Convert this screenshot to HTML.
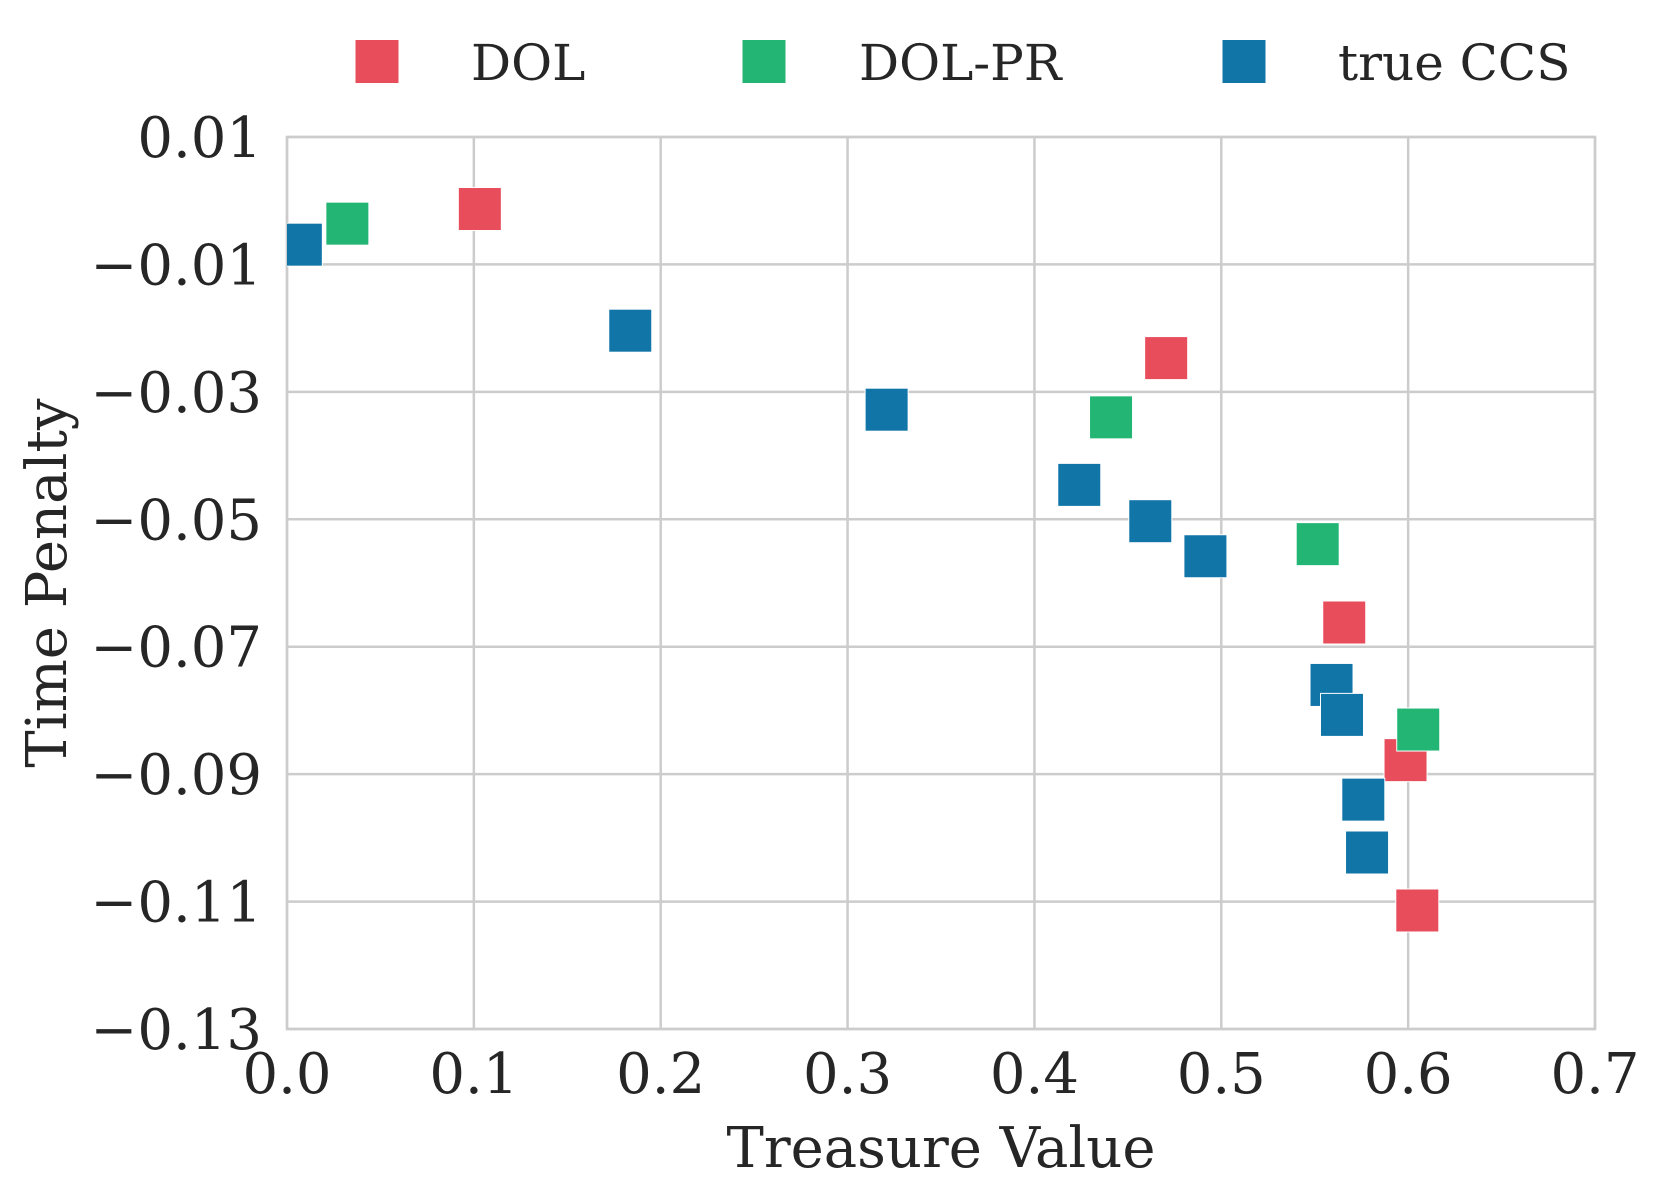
<!DOCTYPE html>
<html><head><meta charset="utf-8"><style>
html,body{margin:0;padding:0;background:#fff;}
svg text{font-family:"DejaVu Serif","Liberation Serif",serif;fill:#262626;}
</style></head><body>
<svg id="chart" width="1660" height="1195" viewBox="0 0 1660 1195" xmlns="http://www.w3.org/2000/svg">
<defs><clipPath id="plotclip"><rect x="287" y="137" width="1308" height="892"/></clipPath></defs>
<g id="grid"></g>
<g id="axes"></g>
<g id="marks" clip-path="url(#plotclip)"></g>
<g id="legend"></g>
<text x="941" y="1167" font-size="56" text-anchor="middle">Treasure Value</text>
<text transform="translate(66,583) rotate(-90)" font-size="56" text-anchor="middle">Time Penalty</text>
</svg>
<script>
const xTicks=[0,0.1,0.2,0.3,0.4,0.5,0.6,0.7];
const xTickLabels=["0.0","0.1","0.2","0.3","0.4","0.5","0.6","0.7"];
const yTicks=[0.01,-0.01,-0.03,-0.05,-0.07,-0.09,-0.11,-0.13];
const yTickLabels=["0.01","\u22120.01","\u22120.03","\u22120.05","\u22120.07","\u22120.09","\u22120.11","\u22120.13"];
const dolX=[0.1032,0.4705,0.5658,0.5986,0.6049];
const dolY=[-0.0013,-0.0247,-0.0662,-0.0878,-0.1114];
const prX=[0.0323,0.441,0.5516,0.6054];
const prY=[-0.0036,-0.034,-0.0539,-0.083];
const ccsX=[0.0074,0.1837,0.3209,0.424,0.462,0.4915,0.559,0.5646,0.576,0.578];
const ccsY=[-0.0069,-0.0204,-0.0328,-0.0446,-0.0503,-0.0558,-0.076,-0.0807,-0.094,-0.1023];
const seriesNames=["DOL","DOL-PR","true CCS"];

const L=287,R=1595,T=137,B=1029;
const sx=v=>L+(v-0)/(0.7-0)*(R-L);
const sy=v=>T+(0.01-v)/(0.14)*(B-T);
const NS="http://www.w3.org/2000/svg";
function mk(tag,attrs,parent){const e=document.createElementNS(NS,tag);for(const k in attrs)e.setAttribute(k,attrs[k]);parent.appendChild(e);return e;}
const grid=document.getElementById('grid'),axes=document.getElementById('axes'),marks=document.getElementById('marks'),legend=document.getElementById('legend');
xTicks.forEach((t,i)=>{
  const l=mk('line',{x1:sx(t),x2:sx(t),y1:T,y2:B,stroke:'#cccccc','stroke-width':2.5},grid);
  
  
  const tx=mk('text',{x:sx(t),y:1093,'font-size':56,'text-anchor':'middle'},axes);
  tx.textContent=xTickLabels[i];
  
  
});
yTicks.forEach((t,i)=>{
  const l=mk('line',{x1:L,x2:R,y1:sy(t),y2:sy(t),stroke:'#cccccc','stroke-width':2.5},grid);
  
  
  const tx=mk('text',{x:262,y:sy(t)+20,'font-size':56,'text-anchor':'end'},axes);
  tx.textContent=yTickLabels[i];
  
  
});
const frame=mk('rect',{x:L,y:T,width:R-L,height:B-T,fill:'none',stroke:'#cccccc','stroke-width':2.5},axes);


const S=43;
function drawSeries(xs,ys,color,name){
  xs.forEach((x,i)=>{
    const r=mk('rect',{x:sx(x)-S/2,y:sy(ys[i])-S/2,width:S,height:S,fill:color,stroke:'#ffffff','stroke-width':1},marks);
    
    
  });
}
drawSeries(dolX,dolY,'#e84d5b','dol');
drawSeries(prX,prY,'#23b574','dol-pr');
drawSeries(ccsX,ccsY,'#1175a8','true-ccs');
const legColors=['#e84d5b','#23b574','#1175a8'];
const legSq=[377,764,1244],legTx=[471,859,1338];
seriesNames.forEach((n,i)=>{
  const r=mk('rect',{x:legSq[i]-21.5,y:40,width:43,height:43,fill:legColors[i]},legend);
  
  
  const t=mk('text',{x:legTx[i],y:80,'font-size':50},legend);
  t.textContent=n;
  
  
});
</script>
</body></html>
